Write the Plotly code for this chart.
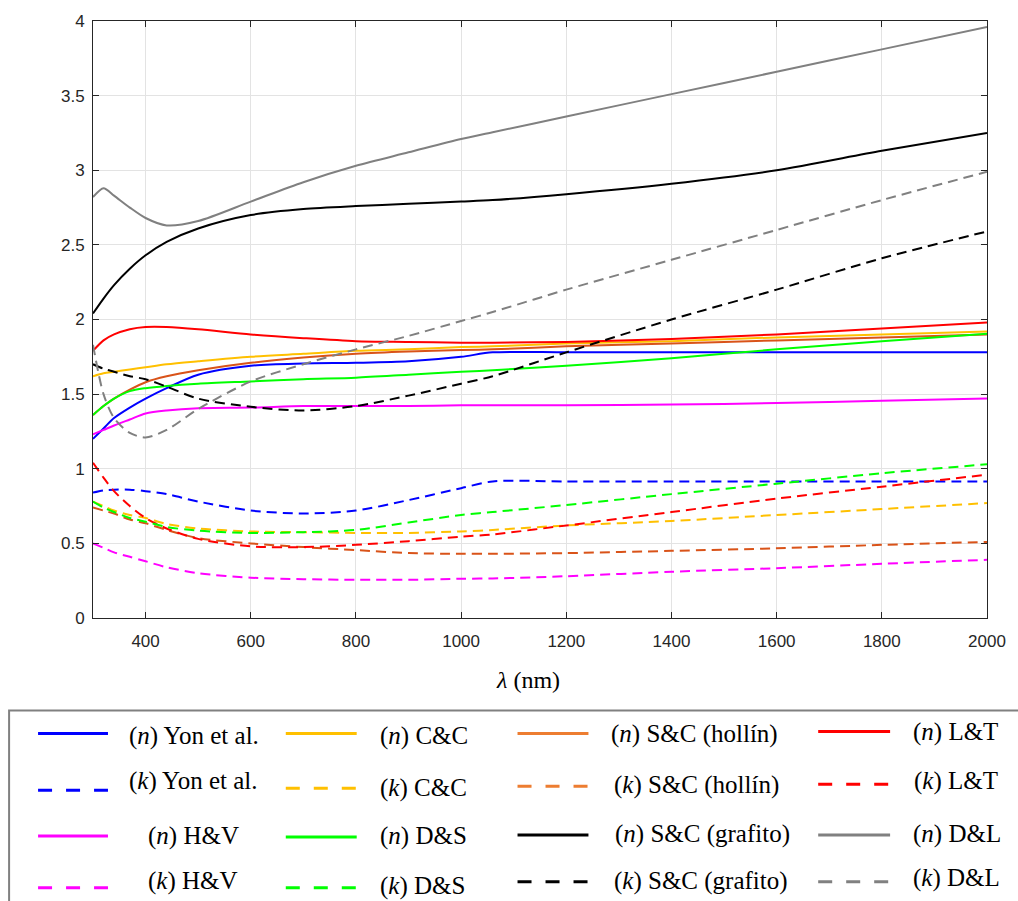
import plotly.graph_objects as go

# Wavelength grid (nm)
wavelength = [300, 320, 340, 370, 400, 440, 500, 600, 700, 800, 900, 1000, 1060, 1200, 1400, 1600, 1800, 2000]

# Refractive index n and absorption k for each model
n_yon = [1.20, 1.27, 1.34, 1.41, 1.47, 1.54, 1.63, 1.69, 1.705, 1.71, 1.72, 1.75, 1.78, 1.78, 1.78, 1.78, 1.78, 1.78]
k_yon = [0.84, 0.855, 0.86, 0.86, 0.85, 0.83, 0.78, 0.72, 0.70, 0.72, 0.79, 0.87, 0.915, 0.915, 0.915, 0.915, 0.915, 0.915]
n_cc = [1.62, 1.64, 1.65, 1.665, 1.68, 1.70, 1.72, 1.75, 1.77, 1.79, 1.80, 1.815, 1.82, 1.84, 1.855, 1.88, 1.90, 1.92]
k_cc = [0.78, 0.75, 0.72, 0.69, 0.67, 0.63, 0.60, 0.58, 0.575, 0.57, 0.57, 0.58, 0.59, 0.62, 0.65, 0.69, 0.73, 0.77]
n_sc_hollin = [1.36, 1.42, 1.47, 1.53, 1.58, 1.62, 1.66, 1.71, 1.745, 1.77, 1.785, 1.795, 1.80, 1.82, 1.84, 1.86, 1.88, 1.90]
k_sc_hollin = [0.74, 0.72, 0.70, 0.66, 0.635, 0.59, 0.535, 0.50, 0.475, 0.455, 0.435, 0.43, 0.43, 0.435, 0.45, 0.467, 0.49, 0.51]
n_lt = [1.79, 1.86, 1.90, 1.935, 1.95, 1.95, 1.935, 1.90, 1.875, 1.855, 1.85, 1.845, 1.845, 1.85, 1.87, 1.90, 1.94, 1.98]
k_lt = [1.04, 0.94, 0.85, 0.75, 0.67, 0.60, 0.53, 0.48, 0.475, 0.49, 0.515, 0.545, 0.56, 0.62, 0.71, 0.80, 0.88, 0.96]
n_hv = [1.23, 1.26, 1.29, 1.33, 1.37, 1.39, 1.405, 1.41, 1.42, 1.42, 1.42, 1.425, 1.425, 1.425, 1.43, 1.44, 1.455, 1.47]
k_hv = [0.50, 0.47, 0.44, 0.41, 0.38, 0.34, 0.30, 0.27, 0.26, 0.256, 0.256, 0.263, 0.265, 0.28, 0.31, 0.334, 0.363, 0.39]
n_ds = [1.36, 1.42, 1.47, 1.52, 1.54, 1.555, 1.57, 1.585, 1.60, 1.61, 1.63, 1.65, 1.66, 1.69, 1.74, 1.80, 1.855, 1.905]
k_ds = [0.78, 0.74, 0.71, 0.67, 0.645, 0.61, 0.585, 0.57, 0.575, 0.59, 0.64, 0.69, 0.71, 0.757, 0.83, 0.90, 0.97, 1.03]
n_sc_grafito = [2.04, 2.14, 2.23, 2.34, 2.43, 2.52, 2.61, 2.70, 2.74, 2.76, 2.775, 2.79, 2.80, 2.84, 2.91, 3.00, 3.13, 3.25]
k_sc_grafito = [1.70, 1.67, 1.65, 1.62, 1.60, 1.55, 1.47, 1.415, 1.39, 1.42, 1.49, 1.57, 1.62, 1.78, 2.00, 2.20, 2.41, 2.59]
n_dl = [2.82, 2.88, 2.83, 2.75, 2.68, 2.63, 2.66, 2.79, 2.92, 3.03, 3.12, 3.21, 3.255, 3.36, 3.51, 3.66, 3.81, 3.96]
k_dl = [1.83, 1.50, 1.34, 1.24, 1.21, 1.26, 1.40, 1.585, 1.70, 1.80, 1.89, 1.99, 2.05, 2.20, 2.40, 2.60, 2.80, 2.99]

x_ticks = [400, 600, 800, 1000, 1200, 1400, 1600, 1800, 2000]
y_ticks = [0, 0.5, 1, 1.5, 2, 2.5, 3, 3.5, 4]

# (label, values, plot colour, legend colour, dashed?)
series = [
    ("(<i>n</i>) Yon et al.", n_yon, "#0000FF", "#0000FF", False),
    ("(<i>n</i>) C&amp;C", n_cc, "#FFC000", "#FFC000", False),
    ("(<i>n</i>) S&amp;C (hollín)", n_sc_hollin, "#D95319", "#ED7D31", False),
    ("(<i>n</i>) L&amp;T", n_lt, "#FF0000", "#FF0000", False),
    ("(<i>k</i>) Yon et al.", k_yon, "#0000FF", "#0000FF", True),
    ("(<i>k</i>) C&amp;C", k_cc, "#FFC000", "#FFC000", True),
    ("(<i>k</i>) S&amp;C (hollín)", k_sc_hollin, "#D95319", "#ED7D31", True),
    ("(<i>k</i>) L&amp;T", k_lt, "#FF0000", "#FF0000", True),
    ("(<i>n</i>) H&amp;V", n_hv, "#FF00FF", "#FF00FF", False),
    ("(<i>n</i>) D&amp;S", n_ds, "#00FF00", "#00FF00", False),
    ("(<i>n</i>) S&amp;C (grafito)", n_sc_grafito, "#000000", "#000000", False),
    ("(<i>n</i>) D&amp;L", n_dl, "#808080", "#808080", False),
    ("(<i>k</i>) H&amp;V", k_hv, "#FF00FF", "#FF00FF", True),
    ("(<i>k</i>) D&amp;S", k_ds, "#00FF00", "#00FF00", True),
    ("(<i>k</i>) S&amp;C (grafito)", k_sc_grafito, "#000000", "#000000", True),
    ("(<i>k</i>) D&amp;L", k_dl, "#808080", "#808080", True),
]

DASH = "10px,6px"
SERIF = "Liberation Serif, Times New Roman, serif"

fig = go.Figure()
for label, vals, color, _, dashed in series:
    fig.add_trace(go.Scatter(
        x=wavelength, y=vals, mode="lines", name=label, showlegend=False,
        line=dict(color=color, width=2, dash=DASH if dashed else "solid",
                  shape="spline", smoothing=0.8),
        hoverinfo="x+y+name",
    ))

# Plot area in pixels
W, H = 1018, 901
L, R, T, B = 93, 30, 18, 283
pw, ph = W - L - R, H - T - B


def px(xp):
    return (xp - L) / pw


def py(yp):
    return (H - B - yp) / ph


shapes = []
annotations = []

# Legend frame below the axes
shapes.append(dict(type="rect", xref="paper", yref="paper",
                   x0=px(9), x1=px(1030), y0=py(711), y1=py(915),
                   line=dict(color="#808080", width=2), fillcolor="white", layer="below"))

# Legend grid: 4 columns x 4 rows, filled row by row
col_line = [(38, 108), (286, 357), (518, 589), (819, 891)]
col_text = [[127, 127, 146, 146], [378, 378, 378, 378], [610, 613, 614, 613], [912, 913, 912, 912]]
line_y = [[734, 791, 837, 889], [734, 789, 838, 889], [734, 787, 836, 883], [732, 785, 836, 883]]
text_y = [[737, 782, 837, 882], [737, 789, 837, 887], [735, 786, 835, 882], [733, 782, 835, 879]]

for i, (label, _, _, lcolor, dashed) in enumerate(series):
    row, col = divmod(i, 4)
    x0, x1 = col_line[col]
    ly = line_y[col][row]
    shapes.append(dict(type="line", xref="paper", yref="paper",
                       x0=px(x0), x1=px(x1), y0=py(ly), y1=py(ly),
                       line=dict(color=lcolor, width=3, dash="14px,14px" if dashed else "solid")))
    annotations.append(dict(xref="paper", yref="paper", x=px(col_text[col][row]), y=py(text_y[col][row]),
                            text=label, showarrow=False, xanchor="left", yanchor="middle",
                            font=dict(family=SERIF, size=25, color="black")))

# x-axis title
annotations.append(dict(xref="paper", yref="paper", x=px(528), y=py(680),
                        text="<i>λ</i> (nm)", showarrow=False, xanchor="center", yanchor="middle",
                        font=dict(family=SERIF, size=24, color="black")))

axis_common = dict(showline=True, linecolor="#262626", linewidth=1, mirror="allticks",
                   ticks="inside", ticklen=6, tickcolor="#262626",
                   showgrid=True, gridcolor="#E3E3E3", gridwidth=1, zeroline=False,
                   tickfont=dict(family="Liberation Sans", size=17, color="#262626"))

fig.update_xaxes(range=[300, 2000], tickvals=x_ticks, ticktext=[str(v) for v in x_ticks],
                 ticklabelstandoff=8, **axis_common)
fig.update_yaxes(range=[0, 4], tickvals=y_ticks, ticktext=[f"{v:g}" for v in y_ticks],
                 ticklabelstandoff=4, **axis_common)

fig.update_layout(
    width=W, height=H,
    margin=dict(l=L, r=R, t=T, b=B),
    paper_bgcolor="white", plot_bgcolor="white",
    shapes=shapes, annotations=annotations,
    showlegend=False,
)

fig.write_html("out.html")
